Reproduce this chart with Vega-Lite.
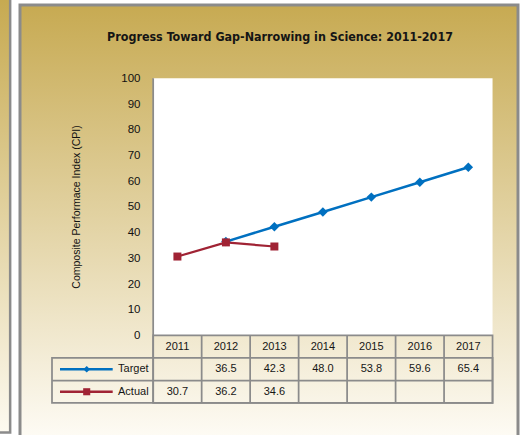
{
  "$schema": "https://vega.github.io/schema/vega-lite/v6.json",
  "width": 498,
  "height": 430,
  "autosize": "none",
  "padding": {"left": 20, "top": 5, "right": 3, "bottom": 0},
  "background": "#ffffff",
  "title": {
    "text": "Progress Toward Gap-Narrowing in Science: 2011-2017",
    "font": "'DejaVu Sans Condensed', 'Liberation Sans', sans-serif",
    "fontSize": 12.4,
    "fontWeight": "bold",
    "color": "#151515",
    "anchor": "middle",
    "frame": "group",
    "baseline": "alphabetic",
    "offset": -60,
    "dx": 11
  },
  "config": {"view": {"stroke": null}},
  "data": {
    "values": [
      {"year": 2011, "series": "Target", "value": null},
      {"year": 2012, "series": "Target", "value": 36.5},
      {"year": 2013, "series": "Target", "value": 42.3},
      {"year": 2014, "series": "Target", "value": 48.0},
      {"year": 2015, "series": "Target", "value": 53.8},
      {"year": 2016, "series": "Target", "value": 59.6},
      {"year": 2017, "series": "Target", "value": 65.4},
      {"year": 2011, "series": "Actual", "value": 30.7},
      {"year": 2012, "series": "Actual", "value": 36.2},
      {"year": 2013, "series": "Actual", "value": 34.6}
    ]
  },
  "layer": [
    {
      "data": {"values": [{}]},
      "mark": {
        "type": "rect",
        "fill": {"gradient": "linear", "x1": 0, "y1": 0, "x2": 0, "y2": 1, "stops": [{"offset": 0, "color": "#c7aa52"}, {"offset": 1, "color": "#fefcf6"}]},
        "stroke": "#8b8b8b",
        "strokeWidth": 3
      },
      "encoding": {
        "x": {"datum": 2007.753, "type": "quantitative", "scale": {"domain": [2007.753, 2018.025], "nice": false, "zero": false}, "axis": null},
        "x2": {"datum": 2018.025},
        "y": {
          "datum": 128.5,
          "type": "quantitative",
          "scale": {"domain": [-38.69, 128.5], "nice": false, "zero": false},
          "axis": {
            "zindex": 2,
            "orient": "left",
            "values": [0, 10, 20, 30, 40, 50, 60, 70, 80, 90, 100],
            "offset": -133,
            "domain": false,
            "ticks": false,
            "grid": false,
            "labelPadding": 13,
            "labelFont": "'Liberation Sans', Arial, sans-serif",
            "labelFontSize": 11.5,
            "labelColor": "#111111",
            "labelFlush": false,
            "labelOverlap": false,
            "labelBound": false,
            "title": "Composite Performace Index (CPI)",
            "titleFont": "'Liberation Sans', Arial, sans-serif",
            "titleFontSize": 10.5,
            "titleFontWeight": "normal",
            "titleColor": "#111111",
            "titleX": -77,
            "titleY": 201.5,
            "titleAngle": -90,
            "titleAlign": "center",
            "titleBaseline": "middle"
          }
        },
        "y2": {"datum": -41}
      }
    },
    {
      "data": {"values": [{}]},
      "mark": {
        "type": "rect",
        "fill": {"gradient": "linear", "x1": 0, "y1": 0, "x2": 0, "y2": 1, "stops": [{"offset": 0, "color": "#c6a94f"}, {"offset": 1, "color": "#fdfaf0"}]},
        "stroke": "#8b8b8b",
        "strokeWidth": 2.5
      },
      "encoding": {
        "x": {"datum": 2007.237, "type": "quantitative", "axis": null},
        "x2": {"datum": 2007.55},
        "y": {"datum": 132.4, "type": "quantitative"},
        "y2": {"datum": -37.71}
      }
    },
    {
      "data": {"values": [{}]},
      "mark": {"type": "rect", "fill": "#ffffff"},
      "encoding": {
        "x": {"datum": 2010.5, "type": "quantitative", "axis": null},
        "x2": {"datum": 2017.5},
        "y": {"datum": 100, "type": "quantitative"},
        "y2": {"datum": 0}
      }
    },
    {
      "data": {"values": [{}]},
      "mark": {"type": "rule", "color": "#8b8b8b", "strokeWidth": 1.75},
      "encoding": {
        "x": {"datum": 2010.5, "type": "quantitative", "axis": null},
        "y": {"datum": 100, "type": "quantitative"},
        "y2": {"datum": 0}
      }
    },
    {
      "data": {"values": [{}]},
      "mark": {"type": "rect", "filled": false, "stroke": "#8b8b8b", "strokeWidth": 1.75},
      "encoding": {
        "x": {"datum": 2008.413, "type": "quantitative", "axis": null},
        "x2": {"datum": 2017.5},
        "y": {"datum": -8.75, "type": "quantitative"},
        "y2": {"datum": -26.24}
      }
    },
    {
      "data": {"values": [{}]},
      "mark": {"type": "rect", "filled": false, "stroke": "#8b8b8b", "strokeWidth": 1.75},
      "encoding": {
        "x": {"datum": 2010.5, "type": "quantitative", "axis": null},
        "x2": {"datum": 2017.5},
        "y": {"datum": 0, "type": "quantitative"},
        "y2": {"datum": -26.24}
      }
    },
    {
      "data": {"values": [{}]},
      "mark": {"type": "rule", "color": "#8b8b8b", "strokeWidth": 1.75},
      "encoding": {
        "x": {"datum": 2008.413, "type": "quantitative", "axis": null},
        "x2": {"datum": 2017.5},
        "y": {"datum": -17.5, "type": "quantitative"}
      }
    },
    {
      "transform": [{"filter": "datum.series === 'Target'"}],
      "mark": {"type": "rule", "color": "#8b8b8b", "strokeWidth": 1.75, "xOffset": -24.24},
      "encoding": {
        "x": {"field": "year", "type": "quantitative", "axis": null},
        "y": {"datum": 0, "type": "quantitative"},
        "y2": {"datum": -26.24}
      }
    },
    {
      "transform": [{"filter": "datum.series === 'Target'"}],
      "mark": {"type": "text", "font": "'Liberation Sans', Arial, sans-serif", "fontSize": 11, "fill": "#161616", "baseline": "middle", "align": "center"},
      "encoding": {
        "x": {"field": "year", "type": "quantitative", "axis": null},
        "y": {"datum": -4.375, "type": "quantitative"},
        "text": {"field": "year", "type": "nominal"}
      }
    },
    {
      "transform": [{"filter": "datum.series === 'Target' && isValid(datum.value)"}],
      "mark": {"type": "text", "font": "'Liberation Sans', Arial, sans-serif", "fontSize": 11, "fill": "#161616", "baseline": "middle", "align": "center"},
      "encoding": {
        "x": {"field": "year", "type": "quantitative", "axis": null},
        "y": {"datum": -13.125, "type": "quantitative"},
        "text": {"field": "value", "type": "quantitative", "format": ".1f"}
      }
    },
    {
      "transform": [{"filter": "datum.series === 'Actual' && isValid(datum.value)"}],
      "mark": {"type": "text", "font": "'Liberation Sans', Arial, sans-serif", "fontSize": 11, "fill": "#161616", "baseline": "middle", "align": "center"},
      "encoding": {
        "x": {"field": "year", "type": "quantitative", "axis": null},
        "y": {"datum": -21.87, "type": "quantitative"},
        "text": {"field": "value", "type": "quantitative", "format": ".1f"}
      }
    },
    {
      "transform": [{"filter": "datum.series === 'Target' && isValid(datum.value)"}],
      "mark": {"type": "line", "strokeWidth": 2.5},
      "encoding": {
        "x": {"field": "year", "type": "quantitative", "axis": null},
        "y": {"field": "value", "type": "quantitative"},
        "color": {"field": "series", "type": "nominal", "scale": {"domain": ["Target", "Actual"], "range": ["#0070c0", "#a02334"]}, "legend": null}
      }
    },
    {
      "transform": [{"filter": "datum.series === 'Target' && isValid(datum.value)"}],
      "mark": {"type": "point", "filled": true, "opacity": 1, "size": 90},
      "encoding": {
        "x": {"field": "year", "type": "quantitative", "axis": null},
        "y": {"field": "value", "type": "quantitative"},
        "color": {"field": "series", "type": "nominal", "legend": null},
        "shape": {"field": "series", "type": "nominal", "scale": {"domain": ["Target", "Actual"], "range": ["diamond", "square"]}, "legend": null}
      }
    },
    {
      "transform": [{"filter": "datum.series === 'Actual' && isValid(datum.value)"}],
      "mark": {"type": "line", "strokeWidth": 2.25},
      "encoding": {
        "x": {"field": "year", "type": "quantitative", "axis": null},
        "y": {"field": "value", "type": "quantitative"},
        "color": {"field": "series", "type": "nominal", "legend": null}
      }
    },
    {
      "transform": [{"filter": "datum.series === 'Actual' && isValid(datum.value)"}],
      "mark": {"type": "point", "filled": true, "opacity": 1, "size": 64},
      "encoding": {
        "x": {"field": "year", "type": "quantitative", "axis": null},
        "y": {"field": "value", "type": "quantitative"},
        "color": {"field": "series", "type": "nominal", "legend": null},
        "shape": {"field": "series", "type": "nominal", "legend": null}
      }
    },
    {
      "transform": [{"filter": "datum.series === 'Target' && datum.year === 2011"}],
      "mark": {"type": "rule", "strokeWidth": 2.5},
      "encoding": {
        "x": {"datum": 2008.578, "type": "quantitative", "axis": null},
        "x2": {"datum": 2009.665},
        "y": {"datum": -13.125, "type": "quantitative"},
        "color": {"field": "series", "type": "nominal", "legend": null}
      }
    },
    {
      "transform": [{"filter": "datum.series === 'Target' && datum.year === 2011"}],
      "mark": {"type": "point", "filled": true, "opacity": 1, "size": 45},
      "encoding": {
        "x": {"datum": 2009.129, "type": "quantitative", "axis": null},
        "y": {"datum": -13.125, "type": "quantitative"},
        "color": {"field": "series", "type": "nominal", "legend": null},
        "shape": {"field": "series", "type": "nominal", "legend": null}
      }
    },
    {
      "transform": [{"filter": "datum.series === 'Target' && datum.year === 2011"}],
      "mark": {"type": "text", "font": "'Liberation Sans', Arial, sans-serif", "fontSize": 11, "fill": "#161616", "baseline": "middle", "align": "left"},
      "encoding": {
        "x": {"datum": 2009.775, "type": "quantitative", "axis": null},
        "y": {"datum": -13.125, "type": "quantitative"},
        "text": {"field": "series", "type": "nominal"}
      }
    },
    {
      "transform": [{"filter": "datum.series === 'Actual' && datum.year === 2011"}],
      "mark": {"type": "rule", "strokeWidth": 2.5},
      "encoding": {
        "x": {"datum": 2008.578, "type": "quantitative", "axis": null},
        "x2": {"datum": 2009.665},
        "y": {"datum": -21.87, "type": "quantitative"},
        "color": {"field": "series", "type": "nominal", "legend": null}
      }
    },
    {
      "transform": [{"filter": "datum.series === 'Actual' && datum.year === 2011"}],
      "mark": {"type": "point", "filled": true, "opacity": 1, "size": 50},
      "encoding": {
        "x": {"datum": 2009.129, "type": "quantitative", "axis": null},
        "y": {"datum": -21.87, "type": "quantitative"},
        "color": {"field": "series", "type": "nominal", "legend": null},
        "shape": {"field": "series", "type": "nominal", "legend": null}
      }
    },
    {
      "transform": [{"filter": "datum.series === 'Actual' && datum.year === 2011"}],
      "mark": {"type": "text", "font": "'Liberation Sans', Arial, sans-serif", "fontSize": 11, "fill": "#161616", "baseline": "middle", "align": "left"},
      "encoding": {
        "x": {"datum": 2009.775, "type": "quantitative", "axis": null},
        "y": {"datum": -21.87, "type": "quantitative"},
        "text": {"field": "series", "type": "nominal"}
      }
    }
  ]
}
